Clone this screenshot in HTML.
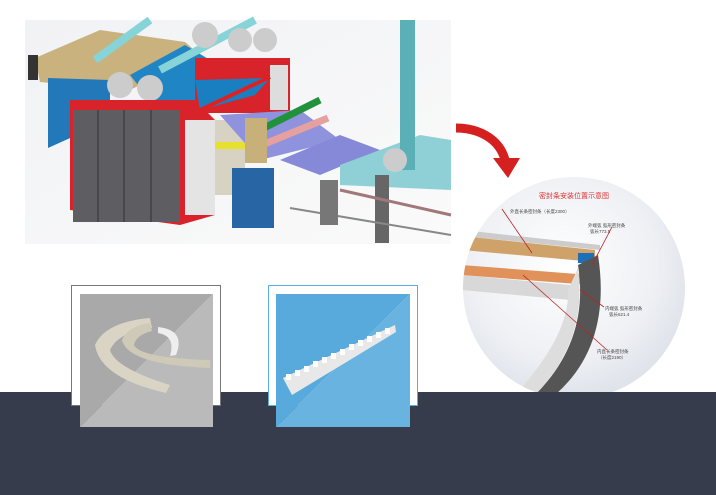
<!DOCTYPE html>
<html><head><meta charset="utf-8"><style>
html,body{margin:0;padding:0;background:#fff;width:716px;height:495px;overflow:hidden}
svg{display:block}
text{font-family:"Liberation Sans","Noto Sans CJK TC",sans-serif}
</style></head><body>
<svg width="716" height="495" viewBox="0 0 716 495">
<defs>
<radialGradient id="cg" cx="0.45" cy="0.4" r="0.6"><stop offset="0" stop-color="#fff"/><stop offset="0.7" stop-color="#eef0f4"/><stop offset="1" stop-color="#dfe3ea"/></radialGradient>
<linearGradient id="bg1" x1="0" y1="0" x2="1" y2="1"><stop offset="0" stop-color="#f1f2f5"/><stop offset="1" stop-color="#fafafa"/></linearGradient>
<clipPath id="cc"><circle cx="574" cy="288" r="111"/></clipPath>
</defs>
<rect x="25" y="20" width="426" height="224" fill="url(#bg1)"/>
<polygon points="35,58 100,30 185,42 200,55 130,90 40,82" fill="#c9b27e"/>
<polygon points="130,75 185,45 235,75 200,100 150,100" fill="#1f85c4"/>
<polygon points="48,78 110,80 110,120 48,148" fill="#2278b8"/>
<rect x="28" y="55" width="10" height="25" fill="#333"/>
<rect x="195" y="58" width="95" height="55" fill="#d8232a"/>
<rect x="270" y="65" width="18" height="45" fill="#ddd"/>
<path d="M95,60 L150,20" stroke="#86d3d8" stroke-width="8" fill="none"/>
<path d="M160,70 L255,20" stroke="#86d3d8" stroke-width="8" fill="none"/>
<circle cx="205" cy="35" r="13" fill="#ccc"/><circle cx="240" cy="40" r="12" fill="#ccc"/><circle cx="265" cy="40" r="12" fill="#ccc"/>
<circle cx="120" cy="85" r="13" fill="#ccc"/><circle cx="150" cy="88" r="13" fill="#ccc"/>
<polygon points="70,100 195,100 215,120 215,215 180,225 70,210" fill="#d8232a"/>
<rect x="73" y="110" width="107" height="112" fill="#5e5e62"/>
<line x1="98" y1="110" x2="98" y2="222" stroke="#333"/><line x1="124" y1="110" x2="124" y2="222" stroke="#333"/><line x1="151" y1="110" x2="151" y2="222" stroke="#333"/>
<rect x="185" y="120" width="30" height="95" fill="#e4e4e4"/>
<rect x="215" y="120" width="30" height="75" fill="#d8d2c3"/>
<rect x="215" y="142" width="35" height="7" fill="#e7e02e"/>
<polygon points="195,80 270,78 255,95 200,110" fill="#1a7fc0"/>
<line x1="200" y1="110" x2="270" y2="77" stroke="#e02020" stroke-width="4"/>
<polygon points="220,115 300,110 340,140 260,160" fill="#8f92dd"/>
<line x1="250" y1="135" x2="320" y2="100" stroke="#22913c" stroke-width="7"/>
<line x1="262" y1="145" x2="328" y2="118" stroke="#e6a0a0" stroke-width="7"/>
<rect x="245" y="118" width="22" height="45" fill="#c8b07a"/>
<polygon points="280,160 340,135 380,150 320,175" fill="#8589d8"/>
<rect x="232" y="168" width="42" height="60" fill="#2765a5"/>
<polygon points="340,165 420,135 451,140 451,190 340,185" fill="#8fd0d6"/>
<rect x="400" y="20" width="15" height="150" fill="#5bb0b8"/>
<circle cx="395" cy="160" r="12" fill="#ccc"/>
<rect x="375" y="175" width="14" height="68" fill="#666"/>
<line x1="290" y1="208" x2="451" y2="235" stroke="#888" stroke-width="2"/>
<line x1="340" y1="190" x2="451" y2="215" stroke="#a0787a" stroke-width="3"/>
<rect x="320" y="180" width="18" height="45" fill="#777"/>
<path d="M456,128 C480,128 500,140 505,160" stroke="#d52020" stroke-width="9" fill="none"/>
<polygon points="493,158 520,158 508,178" fill="#d52020"/>
<circle cx="574" cy="288" r="111" fill="url(#cg)"/>
<g clip-path="url(#cc)">
<polygon points="462,236 595,250 595,262 462,250" fill="#cfa26a"/>
<polygon points="462,265 590,275 590,285 462,275" fill="#e0925a"/>
<polygon points="462,230 600,245 600,250 462,236" fill="#ccc"/>
<polygon points="462,275 570,285 570,300 462,290" fill="#d8d8d8"/>
<rect x="578" y="253" width="16" height="10" fill="#1e6fb5"/>
<path d="M598,255 Q612,345 555,395 L535,395 Q590,340 578,265 Z" fill="#555"/>
<path d="M578,268 Q588,340 535,395 L515,395 Q570,335 568,290 Z" fill="#ddd"/>
<path d="M470,345 Q500,395 560,400 L535,400 Q495,390 470,358 Z" fill="#666"/>
</g>
<text x="574" y="198" font-size="7" fill="#d33" text-anchor="middle">密封条安装位置示意图</text>
<text x="510" y="213" font-size="4.5" fill="#444">外直长条密封条（长度2300）</text>
<text x="588" y="227" font-size="4.5" fill="#444">外端弧 弧形密封条</text>
<text x="590" y="233" font-size="4.5" fill="#444">弧长773.5</text>
<text x="605" y="310" font-size="4.5" fill="#444">内端弧 弧形密封条</text>
<text x="609" y="316" font-size="4.5" fill="#444">弧长621.4</text>
<text x="597" y="353" font-size="4.5" fill="#444">内直长条密封条</text>
<text x="598" y="359" font-size="4.5" fill="#444">（长度2190）</text>
<g stroke="#b22" stroke-width="0.8"><line x1="502" y1="209" x2="532" y2="253"/><line x1="612" y1="227" x2="592" y2="265"/><line x1="604" y1="307" x2="580" y2="290"/><line x1="607" y1="350" x2="523" y2="275"/></g>
<rect x="0" y="392" width="716" height="103" fill="#363c4b"/>
<rect x="71.5" y="285.5" width="149" height="120" fill="#fff" stroke="#777" stroke-width="1"/>
<polygon points="80,294 213,294 80,427" fill="#a9a9a9"/>
<polygon points="213,294 213,427 80,427" fill="#bababa"/>
<path d="M95,345 Q105,322 150,318 L152,328 Q118,332 110,350 Q115,368 170,385 L166,393 Q100,378 95,345 Z" fill="#d9d4c4"/>
<path d="M122,340 Q128,326 150,323 L152,331 Q136,335 134,345 Q140,358 210,360 L210,368 Q128,365 122,340 Z" fill="#cfc9b8"/>
<path d="M158,327 Q186,330 176,355 L170,356 Q176,336 158,333 Z" fill="#eee"/>
<rect x="268.5" y="285.5" width="149" height="120" fill="#fff" stroke="#5aaee0" stroke-width="1"/>
<polygon points="276,294 410,294 276,427" fill="#57aadb"/>
<polygon points="410,294 410,427 276,427" fill="#68b3df"/>
<polygon points="283,378 395,325 396,332 292,395" fill="#e8e8e8"/>
<g fill="#fff"><rect x="286" y="374" width="5" height="6"/><rect x="295" y="370" width="5" height="6"/><rect x="304" y="366" width="5" height="6"/><rect x="313" y="361" width="5" height="6"/><rect x="322" y="357" width="5" height="6"/><rect x="331" y="353" width="5" height="6"/><rect x="340" y="349" width="5" height="6"/><rect x="349" y="344" width="5" height="6"/><rect x="358" y="340" width="5" height="6"/><rect x="367" y="336" width="5" height="6"/><rect x="376" y="332" width="5" height="6"/><rect x="385" y="328" width="5" height="6"/></g>
</svg>
</body></html>
